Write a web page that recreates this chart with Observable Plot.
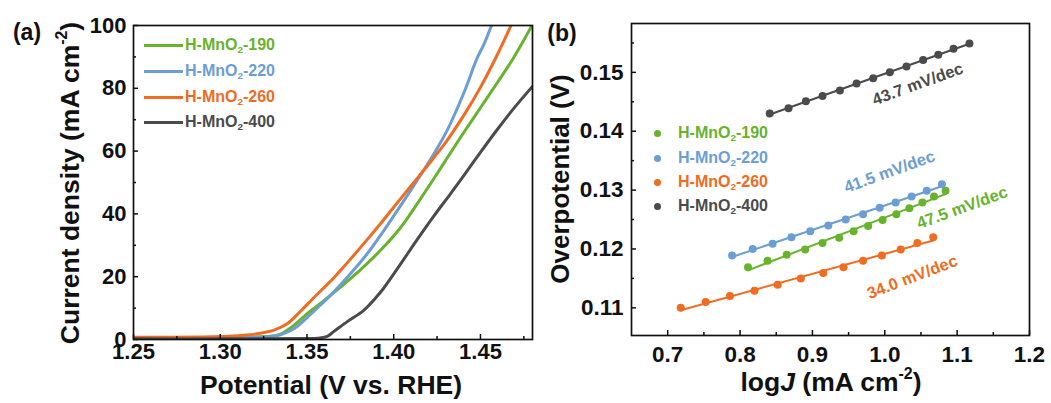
<!DOCTYPE html>
<html><head><meta charset="utf-8">
<script src="https://cdn.jsdelivr.net/npm/d3@7"></script>
<script src="https://cdn.jsdelivr.net/npm/@observablehq/plot@0.6"></script>
<style>
html,body{margin:0;padding:0;background:#fff;}
#wrap{position:relative;width:1051px;height:403px;overflow:hidden;font-family:"Liberation Sans",Arial,sans-serif;font-weight:bold;color:#111;}
#wrap svg{position:absolute;top:0;}
.lbl{position:absolute;white-space:nowrap;line-height:1;}
.ctr{transform:translate(-50%,-50%);}
.rot{transform:translate(-50%,-50%) rotate(-90deg);}
sup{font-size:0.6em;vertical-align:0.75em;line-height:0;}
sub{font-size:0.62em;vertical-align:-0.3em;line-height:0;}
.leg{position:absolute;display:flex;align-items:center;height:20px;font-size:16px;white-space:nowrap;}
.sw{display:inline-block;width:39px;height:3px;margin-right:2px;}
.dt{display:inline-block;width:7px;height:7px;border-radius:50%;margin-right:17px;}
</style></head><body><div id="wrap"></div>
<script>
// ---------- data ----------
const suffixes = ["190", "220", "260", "400"];
const seriesNames = ["H-MnO2-190", "H-MnO2-220", "H-MnO2-260", "H-MnO2-400"];
const colors = ["#67b32c", "#6b9ed4", "#f06c22", "#4b4b4b"];

// (a) LSV curves: potential (V vs RHE) and current density (mA cm-2)
const v190 = [1.25, 1.30, 1.32, 1.33, 1.3347, 1.3424, 1.3501, 1.3578, 1.3654, 1.3693, 1.3808, 1.3924, 1.4039, 1.4135, 1.4231, 1.4308, 1.44, 1.45, 1.46, 1.4692, 1.48];
const j190 = [0.4, 0.5, 0.8, 1.1, 1.7, 4.5, 8.2, 11.5, 14.9, 16.7, 22.2, 28.4, 35.6, 43.2, 51.2, 57.8, 65.6, 73.8, 82.0, 89.8, 100.3];
const v220 = [1.25, 1.30, 1.32, 1.33, 1.3347, 1.3424, 1.3501, 1.3578, 1.3654, 1.3732, 1.3847, 1.4003, 1.4134, 1.423, 1.4308, 1.4404, 1.448, 1.452, 1.4567];
const j220 = [0.3, 0.4, 0.7, 1.0, 1.5, 3.4, 7.0, 11.0, 15.1, 19.8, 27.3, 39.6, 50.6, 59.0, 66.6, 78.5, 89.5, 94.0, 100.5];
const v260 = [1.25, 1.29, 1.305, 1.315, 1.323, 1.331, 1.3386, 1.3463, 1.3539, 1.3654, 1.3732, 1.3847, 1.394, 1.4039, 1.4116, 1.423, 1.4308, 1.442, 1.45, 1.46, 1.468];
const j260 = [0.7, 0.8, 1.0, 1.4, 2.0, 3.0, 5.0, 9.0, 13.3, 19.6, 24.4, 31.8, 38.0, 44.8, 50.0, 57.8, 63.4, 72.8, 80.3, 91.0, 100.5];
const v400 = [1.25, 1.30, 1.35, 1.356, 1.3616, 1.3654, 1.3732, 1.3827, 1.390, 1.3943, 1.4039, 1.4135, 1.4231, 1.4327, 1.4404, 1.45, 1.4596, 1.4692, 1.48];
const j400 = [0.2, 0.2, 0.3, 0.4, 1.0, 2.5, 5.7, 9.3, 13.5, 16.4, 24.0, 31.8, 39.3, 46.4, 52.2, 59.6, 66.8, 73.6, 80.6];

// (b) Tafel plots: log J and overpotential (V)
const logJ190 = [0.811, 0.838, 0.8645, 0.890, 0.914, 0.937, 0.957, 0.977, 0.997, 1.016, 1.034, 1.052, 1.068, 1.084];
const eta190 = [0.1169, 0.1180, 0.1190, 0.1199, 0.1210, 0.1219, 0.1230, 0.1239, 0.1249, 0.1259, 0.1269, 0.1279, 0.1289, 0.1299];
const logJ220 = [0.789, 0.8175, 0.845, 0.871, 0.897, 0.922, 0.946, 0.970, 0.993, 1.015, 1.037, 1.058, 1.079];
const eta220 = [0.1189, 0.1200, 0.1209, 0.1220, 0.1230, 0.1240, 0.1250, 0.1259, 0.1270, 0.1279, 0.1289, 0.1299, 0.1310];
const logJ260 = [0.718, 0.7525, 0.786, 0.820, 0.852, 0.884, 0.915, 0.943, 0.970, 0.996, 1.022, 1.045, 1.067];
const eta260 = [0.1100, 0.1110, 0.1120, 0.1129, 0.1139, 0.1150, 0.1159, 0.1169, 0.1180, 0.1189, 0.1199, 0.1210, 0.1220];
const logJ400 = [0.841, 0.867, 0.891, 0.914, 0.938, 0.961, 0.984, 1.007, 1.030, 1.053, 1.074, 1.095, 1.117];
const eta400 = [0.1430, 0.1439, 0.1451, 0.1460, 0.1469, 0.1481, 0.1490, 0.1500, 0.1510, 0.1521, 0.1530, 0.1540, 0.1549];

// Tafel slope annotations
const slopeText = ["47.5 mV/dec", "41.5 mV/dec", "34.0 mV/dec", "43.7 mV/dec"];
const slopeX = [1.107, 1.0064, 1.038, 1.0456];
const slopeY = [0.1270, 0.1331, 0.1152, 0.1480];
const slopeAngle = [-20, -20, -21, -20];

// ticks
const xMajorA = [1.25, 1.30, 1.35, 1.40, 1.45];
const xMinorA = [1.275, 1.325, 1.375, 1.425, 1.475];
const yMajorA = [0, 20, 40, 60, 80, 100];
const yMinorA = [10, 30, 50, 70, 90];
const xMajorB = [0.7, 0.8, 0.9, 1.0, 1.1, 1.2];
const xMinorB = [0.75, 0.85, 0.95, 1.05, 1.15];
const yMajorB = [0.11, 0.12, 0.13, 0.14, 0.15];
const yMinorB = [0.115, 0.125, 0.135, 0.145, 0.155];

// ---------- tables ----------
const lsvV = [v190, v220, v260, v400], lsvJ = [j190, j220, j260, j400];
const lsv = seriesNames.flatMap((s, i) => lsvV[i].map((v, k) => ({s, v, j: lsvJ[i][k]})));
const tfX = [logJ190, logJ220, logJ260, logJ400], tfY = [eta190, eta220, eta260, eta400];
const tafel = seriesNames.flatMap((s, i) => tfX[i].map((x, k) => ({s, x, y: tfY[i][k]})));
const notes = seriesNames.map((s, i) => ({s, x: slopeX[i], y: slopeY[i], t: slopeText[i], a: slopeAngle[i]}));

const ink = "#111";
const baseStyle = {fontFamily: '"Liberation Sans", Arial, sans-serif', fontWeight: "bold", fontSize: "22px", color: ink, background: "transparent", overflow: "visible"};
const colorScale = {domain: seriesNames, range: colors};

// ---------- panel (a) ----------
const A = {w: 533, h: 403, t: 25, r: 1, b: 64, l: 133};
const aW = A.w - A.l - A.r, aH = A.h - A.t - A.b;
const plotA = Plot.plot({
  width: A.w, height: A.h, marginTop: A.t, marginRight: A.r, marginBottom: A.b, marginLeft: A.l,
  style: baseStyle,
  x: {domain: [1.25, 1.48]},
  y: {domain: [0, 100]},
  color: colorScale,
  marks: [
    Plot.line(lsv, {x: "v", y: "j", stroke: "s", z: "s", strokeWidth: 3, curve: "catmull-rom", clip: true}),
    Plot.tickX(xMajorA, {x: d => d, stroke: ink, strokeWidth: 1.5, insetTop: aH - 5}),
    Plot.tickX(xMinorA, {x: d => d, stroke: ink, strokeWidth: 1.5, insetTop: aH - 3}),
    Plot.tickY(yMajorA, {y: d => d, stroke: ink, strokeWidth: 1.5, insetRight: aW - 5}),
    Plot.tickY(yMinorA, {y: d => d, stroke: ink, strokeWidth: 1.5, insetRight: aW - 3}),
    Plot.axisX({ticks: xMajorA, tickSize: 0, tickPadding: 4, tickFormat: d3.format(".2f"), label: null, fontSize: 22}),
    Plot.axisY({ticks: yMajorA, tickSize: 0, tickPadding: 7, label: null, fontSize: 22}),
    Plot.frame({stroke: ink, strokeWidth: 1.7})
  ]
});

// ---------- panel (b) ----------
const B = {w: 511, h: 403, t: 23, r: 22, b: 68, l: 91, left: 540};
const bW = B.w - B.l - B.r, bH = B.h - B.t - B.b;
const plotB = Plot.plot({
  width: B.w, height: B.h, marginTop: B.t, marginRight: B.r, marginBottom: B.b, marginLeft: B.l,
  style: baseStyle,
  x: {domain: [0.65, 1.2]},
  y: {domain: [0.1053, 0.1583]},
  color: colorScale,
  marks: [
    Plot.linearRegressionY(tafel, {x: "x", y: "y", stroke: "s", z: "s", ci: 0, strokeWidth: 2}),
    Plot.dot(tafel, {x: "x", y: "y", fill: "s", r: 4}),
    ...notes.map(n => Plot.text([n], {x: "x", y: "y", text: "t", fill: "s", rotate: n.a, fontSize: 16.5, fontWeight: "bold"})),
    Plot.tickX(xMajorB, {x: d => d, stroke: ink, strokeWidth: 1.5, insetTop: bH - 5}),
    Plot.tickX(xMinorB, {x: d => d, stroke: ink, strokeWidth: 1.5, insetTop: bH - 3}),
    Plot.tickY(yMajorB, {y: d => d, stroke: ink, strokeWidth: 1.5, insetRight: bW - 5}),
    Plot.tickY(yMinorB, {y: d => d, stroke: ink, strokeWidth: 1.5, insetRight: bW - 3}),
    Plot.axisX({ticks: xMajorB, tickSize: 0, tickPadding: 11, tickFormat: d3.format(".1f"), label: null, fontSize: 22.5}),
    Plot.axisY({ticks: yMajorB, tickSize: 0, tickPadding: 8, tickFormat: d3.format(".2f"), label: null, fontSize: 22.5}),
    Plot.frame({stroke: ink, strokeWidth: 1.7})
  ]
});

const wrap = document.getElementById("wrap");
plotA.style.left = "0px";
plotB.style.left = B.left + "px";
wrap.appendChild(plotA);
wrap.appendChild(plotB);

function label(html, x, y, cls, size) {
  const d = document.createElement("div");
  d.className = "lbl " + cls;
  d.style.left = x + "px"; d.style.top = y + "px"; d.style.fontSize = size + "px";
  d.innerHTML = html;
  wrap.appendChild(d);
}
label("(a)", 27, 32, "ctr", 23);
label("(b)", 562, 33, "ctr", 23);
label("Current density (mA cm<sup>-2</sup>)", 70, 183, "rot", 26.5);
label("Potential (V vs. RHE)", 331, 385, "ctr", 26.5);
label("Overpotential (V)", 560, 179, "rot", 26);
label("log<i>J</i> (mA cm<sup>-2</sup>)", 831, 382, "ctr", 26.5);

// legends
const legAy = [45, 71, 97, 122];
const legBy = [133, 158, 182, 206];
suffixes.forEach((sfx, i) => {
  const a = document.createElement("div");
  a.className = "leg";
  a.style.left = "144px"; a.style.top = (legAy[i] - 10) + "px"; a.style.color = colors[i];
  a.innerHTML = `<span class="sw" style="background:${colors[i]}"></span><span>H-MnO<sub>2</sub>-${sfx}</span>`;
  wrap.appendChild(a);
  const b = document.createElement("div");
  b.className = "leg";
  b.style.left = "654px"; b.style.top = (legBy[i] - 10) + "px"; b.style.color = colors[i];
  b.innerHTML = `<span class="dt" style="background:${colors[i]}"></span><span>H-MnO<sub>2</sub>-${sfx}</span>`;
  wrap.appendChild(b);
});
</script></body></html>
